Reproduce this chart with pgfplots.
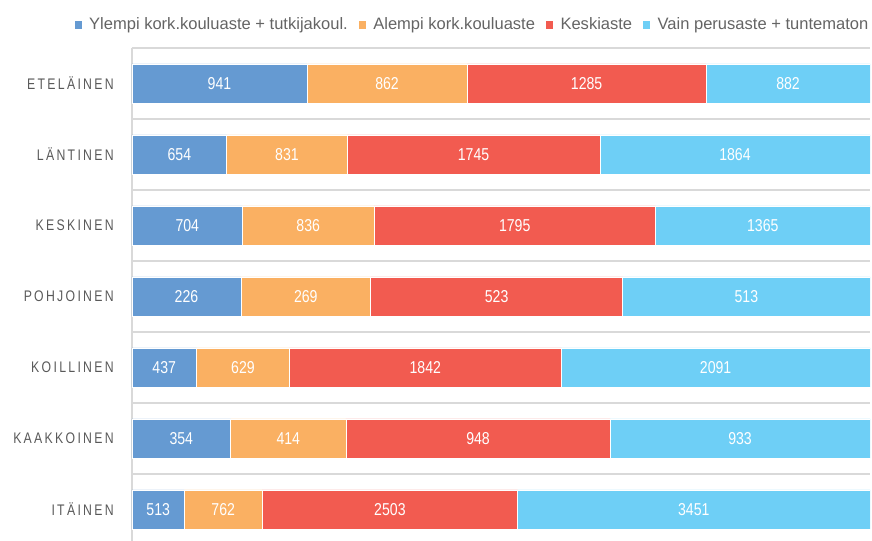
\documentclass[border=0pt]{standalone}
\usepackage{fontspec}
\setmainfont{Liberation Sans}
\newfontfamily\catfont{Liberation Sans}[FakeStretch=0.8,LetterSpace=15]
\newfontfamily\numfont{Liberation Sans}[FakeStretch=0.82]
\usepackage{pgfplots}
\usepackage{pgfplotstable}
\pgfplotsset{compat=1.18}
\definecolor{cBlue}{HTML}{659AD2}
\definecolor{cOrange}{HTML}{FAB062}
\definecolor{cRed}{HTML}{F25B50}
\definecolor{cCyan}{HTML}{6ECFF6}
\definecolor{gridgray}{HTML}{D9D9D9}
\definecolor{catgray}{HTML}{595959}
\definecolor{leggray}{HTML}{646464}

% y: 0 = ETELAINEN ... 6 = ITAINEN ; pct = share of row total, val = count
\pgfplotstableread{
y pct val
0 23.703 941
1 12.839 654
2 14.979 704
3 14.762 226
4 8.742 437
5 13.364 354
6 7.096 513
}\tA
\pgfplotstableread{
y pct val
0 21.713 862
1 16.313 831
2 17.787 836
3 17.570 269
4 12.583 629
5 15.629 414
6 10.541 762
}\tB
\pgfplotstableread{
y pct val
0 32.368 1285
1 34.256 1745
2 38.191 1795
3 34.161 523
4 36.847 1842
5 35.787 948
6 34.624 2503
}\tC
\pgfplotstableread{
y pct val
0 22.216 882
1 36.592 1864
2 29.043 1365
3 33.507 513
4 41.828 2091
5 35.220 933
6 47.739 3451
}\tD

\begin{document}
\begin{tikzpicture}
\begin{axis}[
  at={(0,0)}, anchor=north west,
  scale only axis,
  width=553.5pt, height=372.75pt,
  xbar stacked,
  bar width=29.6pt,
  xmin=0, xmax=100,
  ymin=-0.5, ymax=6.5,
  y dir=reverse,
  axis line style={draw=none},
  xtick=\empty,
  ytick={0,1,2,3,4,5,6},
  yticklabels={ETELÄINEN,LÄNTINEN,KESKINEN,POHJOINEN,KOILLINEN,KAAKKOINEN,ITÄINEN},
  yticklabel style={font=\catfont\fontsize{11.5}{13}\selectfont, text=catgray, inner sep=0pt, anchor=east, xshift=-13.5pt},
  major tick length=0pt, minor tick length=0pt,
  minor ytick={-0.5,0.5,1.5,2.5,3.5,4.5,5.5,6.5},
  yminorgrids=true,
  minor grid style={draw=gridgray, line width=1.1pt},
  extra x ticks={0},
  extra x tick labels={},
  extra x tick style={grid=major, major grid style={draw=gridgray, line width=1.1pt}},
  point meta=explicit symbolic,
  nodes near coords,
  nodes near coords style={font=\numfont\fontsize{12.9}{14}\selectfont, text=white},
  legend columns=4,
  legend style={
    at={(0.5,1)}, anchor=center, xshift=-22.5pt, yshift=17.5pt,
    draw=none, fill=none,
    font=\fontsize{12.4}{14}\selectfont, text=leggray,
    column sep=0pt,
    nodes={inner sep=0pt},
    /tikz/every odd column/.append style={column sep=5pt},
    /tikz/every even column/.append style={column sep=7.5pt},
  },
  legend image code/.code={\fill[#1] (0pt,-3.4pt) rectangle (6.2pt,3.4pt);},
]
\addplot[fill=cBlue, draw=white, line width=0.4pt] table[x=pct, y=y, meta=val] {\tA};
\addlegendentry{Ylempi kork.kouluaste + tutkijakoul.}
\addplot[fill=cOrange, draw=white, line width=0.4pt] table[x=pct, y=y, meta=val] {\tB};
\addlegendentry{Alempi kork.kouluaste}
\addplot[fill=cRed, draw=white, line width=0.4pt] table[x=pct, y=y, meta=val] {\tC};
\addlegendentry{Keskiaste}
\addplot[fill=cCyan, draw=white, line width=0.4pt] table[x=pct, y=y, meta=val] {\tD};
\addlegendentry{Vain perusaste + tuntematon}
\end{axis}
\pgfresetboundingbox
\useasboundingbox (-99pt,36pt) rectangle (555pt,-369pt);
\end{tikzpicture}
\end{document}
